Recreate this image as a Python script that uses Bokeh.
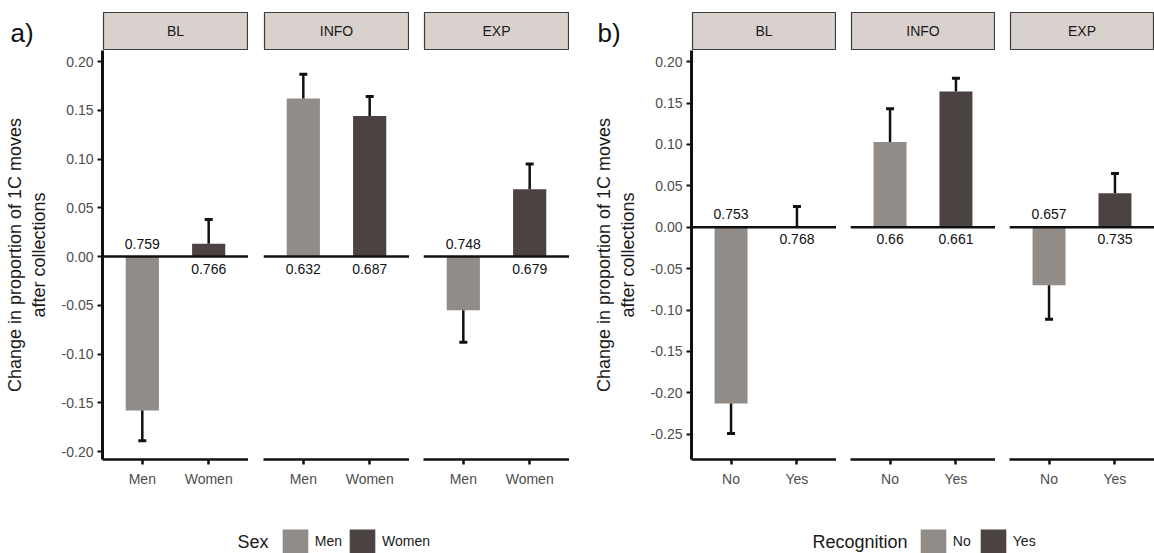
from bokeh.plotting import figure
from bokeh.layouts import row, column
from bokeh.models import (ColumnDataSource, FactorRange, Range1d, Span, FixedTicker,
                          NumeralTickFormatter, Label, Legend, LegendItem, Spacer)
from bokeh.core.properties import value
from bokeh.embed import file_html
from bokeh.resources import INLINE

FONT = "Liberation Sans"

# ---------------- data ----------------
conditions = ["BL", "INFO", "EXP"]

sex_levels = ["Men", "Women"]
sex_change = [[-0.158, 0.013], [0.162, 0.144], [-0.055, 0.069]]      # BL, INFO, EXP
sex_se = [[0.031, 0.025], [0.025, 0.020], [0.033, 0.026]]
sex_base = [["0.759", "0.766"], ["0.632", "0.687"], ["0.748", "0.679"]]
sex_yticks = [-0.20, -0.15, -0.10, -0.05, 0.00, 0.05, 0.10, 0.15, 0.20]

rec_levels = ["No", "Yes"]
rec_change = [[-0.213, 0.0], [0.103, 0.164], [-0.070, 0.041]]
rec_se = [[0.036, 0.025], [0.040, 0.016], [0.041, 0.024]]
rec_base = [["0.753", "0.768"], ["0.66", "0.661"], ["0.657", "0.735"]]
rec_yticks = [-0.25, -0.20, -0.15, -0.10, -0.05, 0.00, 0.05, 0.10, 0.15, 0.20]

y_title = "Change in proportion of 1C moves\nafter collections"

# ---------------- style ----------------
LIGHT = "#918c87"
DARK = "#4b4242"
STRIP_FILL = "#d9d1cd"
STRIP_LINE = "#3c3c3c"
INK = "#111111"
TICK_TXT = "#4d4d4d"

PANEL_H = 479


def panel(levels, change, se, base, yrange, yticks, width, left_border, show_y):
    ends = [v + s if v >= 0 else v - s for v, s in zip(change, se)]
    src = ColumnDataSource(dict(level=levels, change=change, end=ends, color=[LIGHT, DARK]))
    p = figure(width=width, height=PANEL_H,
               x_range=FactorRange(factors=levels, range_padding=0.1),
               y_range=Range1d(*yrange), toolbar_location=None, output_backend="svg",
               min_border_left=left_border, min_border_right=0, min_border_top=0,
               min_border_bottom=70, y_axis_location="left" if show_y else None,
               outline_line_color=None)
    p.grid.visible = False
    p.vbar(x="level", top="change", bottom=0, width=0.5, fill_color="color",
           line_color=None, source=src)
    p.segment(x0="level", y0="change", x1="level", y1="end", line_width=2.5,
              line_color=INK, source=src)
    p.scatter(x="level", y="end", marker="dash", size=8, line_width=3,
              line_color=INK, source=src)
    p.add_layout(Span(location=0, dimension="width", line_color=INK, line_width=2.5))

    above = [i for i, v in enumerate(change) if v < 0]
    below = [i for i, v in enumerate(change) if v >= 0]
    for idx, off in ((above, -13), (below, 12)):
        s = ColumnDataSource(dict(level=[levels[i] for i in idx], y=[0] * len(idx),
                                  text=[base[i] for i in idx]))
        p.text(x="level", y="y", text="text", source=s, text_align="center",
               text_baseline="middle", y_offset=off, text_font=value(FONT),
               text_font_size="14px", text_color=INK)

    xa = p.xaxis[0]
    xa.axis_line_width = 2.5
    xa.axis_line_color = INK
    xa.major_tick_line_width = 2.5
    xa.major_tick_line_color = INK
    xa.major_tick_out = 5
    xa.major_tick_in = 0
    xa.minor_tick_line_color = None
    xa.major_label_text_font = FONT
    xa.major_label_text_font_size = "14px"
    xa.major_label_text_color = TICK_TXT
    xa.major_label_standoff = 6

    if show_y:
        ya = p.yaxis[0]
        ya.ticker = FixedTicker(ticks=yticks)
        ya.formatter = NumeralTickFormatter(format="0.00")
        ya.axis_line_width = 3
        ya.axis_line_color = INK
        ya.major_tick_line_width = 2
        ya.major_tick_line_color = INK
        ya.major_tick_out = 5
        ya.major_tick_in = 0
        ya.minor_tick_line_color = None
        ya.major_label_text_font = FONT
        ya.major_label_text_font_size = "14px"
        ya.major_label_text_color = TICK_TXT
        ya.major_label_standoff = 4
        ya.axis_label = y_title
        ya.axis_label_text_font = FONT
        ya.axis_label_text_font_size = "18px"
        ya.axis_label_text_font_style = "normal"
        ya.axis_label_text_color = "#1a1a1a"
        ya.axis_label_standoff = 10
    return p


def strip(text, width):
    p = figure(width=width, height=50, x_range=Range1d(0, 1), y_range=Range1d(0, 1),
               toolbar_location=None, output_backend="svg",
               min_border_top=12, min_border_bottom=1, min_border_left=1, min_border_right=1,
               x_axis_location=None, y_axis_location=None,
               background_fill_color=STRIP_FILL, outline_line_color=STRIP_LINE,
               outline_line_width=1.2, border_fill_color="white")
    p.grid.visible = False
    p.add_layout(Label(x=0.5, y=0.5, text=text, text_align="center", text_baseline="middle",
                       text_font=FONT, text_font_size="14px", text_color="#1a1a1a"))
    return p


def tag(text, width, xpos):
    p = figure(width=width, height=50, x_range=Range1d(0, width), y_range=Range1d(0, 50),
               toolbar_location=None, output_backend="svg", min_border=0,
               x_axis_location=None, y_axis_location=None, outline_line_color=None)
    p.grid.visible = False
    p.add_layout(Label(x=xpos, y=22, text=text, text_align="left", text_baseline="middle",
                       text_font=FONT, text_font_size="26px", text_color="#111111"))
    return p


def legend_fig(title, labels, width, title_x, keys_x):
    p = figure(width=width, height=24, x_range=Range1d(0, width), y_range=Range1d(0, 24),
               toolbar_location=None, output_backend="svg", min_border=0,
               x_axis_location=None, y_axis_location=None, outline_line_color=None)
    p.grid.visible = False
    rs = [p.vbar(x=[0], top=[0], bottom=[0], width=0, fill_color=c, line_color=None)
          for c in (LIGHT, DARK)]
    leg = Legend(items=[LegendItem(label=l, renderers=[r]) for l, r in zip(labels, rs)],
                 orientation="horizontal", location=(keys_x - 3.2, -3),
                 glyph_width=32, glyph_height=30, label_standoff=4, spacing=4,
                 padding=0, margin=0, border_line_color=None, background_fill_alpha=0,
                 label_text_font=FONT, label_text_font_size="14px", label_text_color="#1a1a1a")
    p.add_layout(leg, "center")
    p.add_layout(Label(x=title_x, y=12, text=title, text_align="left", text_baseline="middle",
                       text_font=FONT, text_font_size="18px", text_color="#1a1a1a"))
    return p


# ---------------- layout ----------------
yr_a = (-0.2082, 0.2113)
yr_b = (-0.2805, 0.2134)

top = row(
    tag("a)", 102, 10), strip("BL", 146), Spacer(width=15, height=50), strip("INFO", 146),
    Spacer(width=14, height=50), strip("EXP", 146),
    tag("b)", 122, 28), strip("BL", 145), Spacer(width=14, height=50), strip("INFO", 145),
    Spacer(width=14, height=50), strip("EXP", 145),
)

mid = row(
    panel(sex_levels, sex_change[0], sex_se[0], sex_base[0], yr_a, sex_yticks, 248, 102, True),
    Spacer(width=15, height=PANEL_H),
    panel(sex_levels, sex_change[1], sex_se[1], sex_base[1], yr_a, sex_yticks, 146, 0, False),
    Spacer(width=14, height=PANEL_H),
    panel(sex_levels, sex_change[2], sex_se[2], sex_base[2], yr_a, sex_yticks, 146, 0, False),
    panel(rec_levels, rec_change[0], rec_se[0], rec_base[0], yr_b, rec_yticks, 267, 122, True),
    Spacer(width=14, height=PANEL_H),
    panel(rec_levels, rec_change[1], rec_se[1], rec_base[1], yr_b, rec_yticks, 145, 0, False),
    Spacer(width=14, height=PANEL_H),
    panel(rec_levels, rec_change[2], rec_se[2], rec_base[2], yr_b, rec_yticks, 145, 0, False),
)

bottom = row(
    Spacer(width=102, height=24), legend_fig("Sex", sex_levels, 467, 135, 180),
    Spacer(width=122, height=24), legend_fig("Recognition", rec_levels, 463, 121, 229),
)

layout = column(top, mid, bottom)

open("out.html", "w").write(file_html(layout, INLINE))
